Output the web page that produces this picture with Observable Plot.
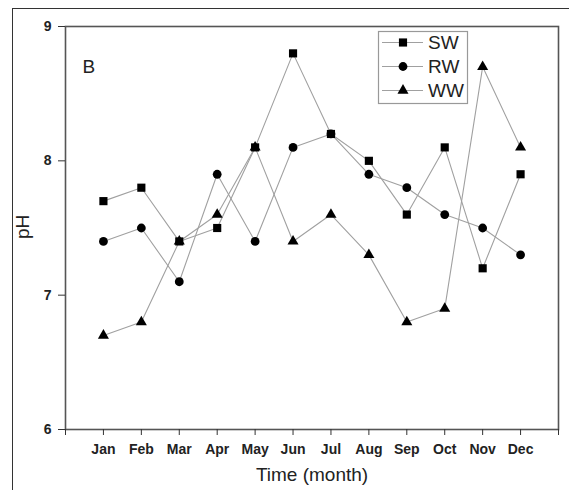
<!DOCTYPE html>
<html><head><meta charset="utf-8">
<script src="https://cdn.jsdelivr.net/npm/d3@7"></script>
<script src="https://cdn.jsdelivr.net/npm/@observablehq/plot@0.6"></script>
<style>
body{margin:0;background:#fff;}
#wrap{position:relative;width:569px;height:490px;overflow:hidden;font-family:"Liberation Sans",Arial,sans-serif;}
#outer{position:absolute;left:12px;top:8px;width:700px;height:700px;border-left:1.5px solid #333;border-top:1.5px solid #333;pointer-events:none;}
</style></head><body><div id="wrap"><div id="outer"></div></div>
<script>
const months = ["Jan","Feb","Mar","Apr","May","Jun","Jul","Aug","Sep","Oct","Nov","Dec"];
const monthIndex = [1,2,3,4,5,6,7,8,9,10,11,12];
const sw = [7.7,7.8,7.4,7.5,8.1,8.8,8.2,8.0,7.6,8.1,7.2,7.9];
const rw = [7.4,7.5,7.1,7.9,7.4,8.1,8.2,7.9,7.8,7.6,7.5,7.3];
const ww = [6.7,6.8,7.4,7.6,8.1,7.4,7.6,7.3,6.8,6.9,8.7,8.1];
const seriesNames = ["SW","RW","WW"];
const seriesSymbols = ["square","circle","triangle"];
const seriesR = [4.6,4.4,4.1];
const yTicks = [6,7,8,9];
const xTicks = [0,1,2,3,4,5,6,7,8,9,10,11,12,13];

const seriesVals = [sw, rw, ww];
const data = [];
seriesNames.forEach((s,i)=>monthIndex.forEach((m,j)=>data.push({series:s, m, v:seriesVals[i][j]})));

const lineColor = "#a0a0a0";
const marks = [
  Plot.frame({stroke:"#555", strokeWidth:1.6}),
  Plot.axisY({ticks:yTicks, tickFormat:d3.format("d"), tickSize:7, tickPadding:7, fontSize:14, fontWeight:"bold", label:null, stroke:"#333", color:"#222"}),
  Plot.axisX({ticks:xTicks, tickFormat:d=>months[d-1] ?? "", tickSize:6, tickPadding:9, fontSize:14, fontWeight:"bold", label:null, stroke:"#333", color:"#222"}),
  Plot.text(["Time (month)"], {frameAnchor:"bottom", dy:51, fontSize:19, fill:"#222"}),
  Plot.text(["pH"], {frameAnchor:"left", dx:-43, dy:11, rotate:-90, fontSize:19, fill:"#222"}),
  Plot.text(["B"], {frameAnchor:"top-left", dx:17, dy:33, fontSize:19, fill:"#222", textAnchor:"start"})
];
seriesNames.forEach((s,i)=>{
  const d = data.filter(e=>e.series===s);
  marks.push(Plot.line(d, {x:"m", y:"v", stroke:lineColor, strokeWidth:1.1}));
});
seriesNames.forEach((s,i)=>{
  const d = data.filter(e=>e.series===s);
  marks.push(Plot.dot(d, {x:"m", y:"v", symbol:()=>seriesSymbols[i], r:seriesR[i], fill:"#000", stroke:"none"}));
});

const chart = Plot.plot({
  width:569, height:490,
  marginLeft:65, marginTop:26, marginRight:11, marginBottom:61,
  style:{fontFamily:"'Liberation Sans', Arial, sans-serif", background:"transparent", overflow:"visible"},
  x:{type:"linear", domain:[0,13]},
  y:{domain:[6,9]},
  symbol:{domain:seriesSymbols, range:seriesSymbols},
  marks
});
chart.style.position="absolute"; chart.style.left="0"; chart.style.top="0";
document.getElementById("wrap").appendChild(chart);

// legend
const svg = d3.select(chart);
const lg = svg.append("g").attr("text-anchor","start");
lg.append("rect").attr("x",378.5).attr("y",31.5).attr("width",89).attr("height",72)
  .attr("fill","#fff").attr("stroke","#999").attr("stroke-width",1.2);
const symGen = {square:d3.symbolSquare, circle:d3.symbolCircle, triangle:d3.symbolTriangle};
seriesNames.forEach((s,i)=>{
  const cy = 42.5 + i*24;
  lg.append("line").attr("x1",382).attr("x2",423).attr("y1",cy).attr("y2",cy).attr("stroke",lineColor).attr("stroke-width",1.1);
  lg.append("path").attr("transform",`translate(403,${cy})`)
    .attr("d", d3.symbol(symGen[seriesSymbols[i]], Math.PI*seriesR[i]*seriesR[i])())
    .attr("fill","#000");
  lg.append("text").attr("x",428).attr("y",cy).attr("dy","0.36em").attr("text-anchor","start").attr("font-size",19).attr("fill","#222").text(s);
});
</script></body></html>
